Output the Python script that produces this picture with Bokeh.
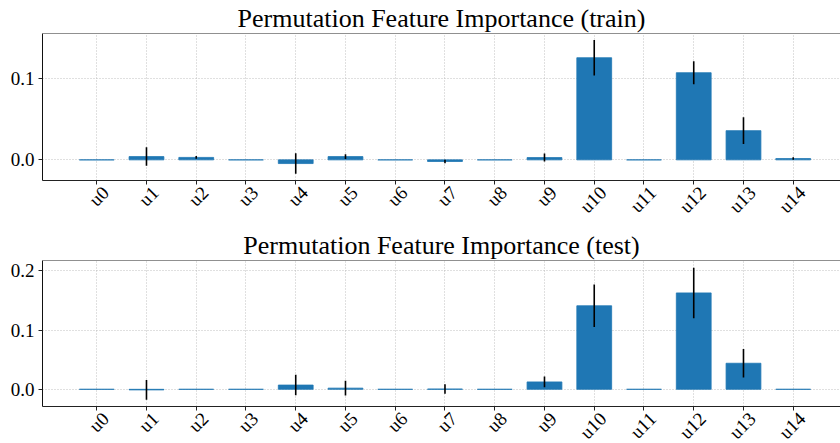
import math
from bokeh.plotting import figure
from bokeh.models import (Range1d, FixedTicker, SingleIntervalTicker, PrintfTickFormatter,
                          Span, LinearAxis)
from bokeh.layouts import column
from bokeh.embed import file_html
from bokeh.resources import INLINE

# ---- data ----
features = ["u0", "u1", "u2", "u3", "u4", "u5", "u6", "u7", "u8", "u9",
            "u10", "u11", "u12", "u13", "u14"]
train_mean = [0.0, 0.004, 0.003, 0.0, -0.0045, 0.004, 0.0, -0.002, 0.0, 0.0028,
              0.1248, 0.0, 0.1065, 0.0357, 0.0016]
train_std = [0.0, 0.0113, 0.0016, 0.0, 0.0126, 0.003, 0.0, 0.002, 0.0, 0.0049,
             0.0218, 0.0, 0.014, 0.0163, 0.0015]
test_mean = [0.0, -0.001, 0.0, 0.0, 0.0072, 0.002, 0.0, 0.0005, 0.0, 0.0125,
             0.141, 0.0, 0.1627, 0.044, 0.0]
test_std = [0.0, 0.0167, 0.0, 0.0, 0.0172, 0.0125, 0.0, 0.008, 0.0, 0.009,
            0.036, 0.0, 0.0426, 0.0242, 0.0]
titles = ["Permutation Feature Importance (train)",
          "Permutation Feature Importance (test)"]
y_limits = [(-0.0252, 0.1544), (-0.029, 0.2174)]

FONT = "Liberation Serif"
BLUE = "#1f77b4"
W = 840
LABEL_FS = 19
X0, X1 = -1.09, 14.95
LABEL_SHIFT = 0.18   # horizontal nudge of rotated labels (matplotlib centres the rotated box)


def panel(title, means, stds, ylim, height, top, bottom):
    n = len(features)
    xs = list(range(n))
    p = figure(width=W, height=height, output_backend="svg", toolbar_location=None,
               x_range=Range1d(X0, X1), y_range=Range1d(*ylim),
               min_border_left=42, min_border_right=0,
               min_border_top=top, min_border_bottom=bottom,
               background_fill_color="white", border_fill_color="white")
    p.outline_line_color = None
    p.title.text = title
    p.title.text_font = FONT
    p.title.text_font_size = "26px"
    p.title.text_font_style = "normal"
    p.title.text_color = "black"
    p.title.align = "center"
    p.title.standoff = 2

    # x axis: ticks + spine
    p.xaxis.ticker = FixedTicker(ticks=xs)
    p.xaxis.major_label_overrides = {i: "" for i in xs}
    p.xaxis.major_label_text_font_size = "0px"
    p.xaxis.major_label_standoff = 0
    p.xaxis.major_tick_out = 4
    p.xaxis.major_tick_in = 0
    p.xaxis.minor_tick_line_color = None
    p.xaxis.axis_line_color = "#222222"
    p.xaxis.major_tick_line_color = "#222222"

    # x tick labels on a slightly shifted copy of the range
    p.extra_x_ranges = {"labels": Range1d(X0 - LABEL_SHIFT, X1 - LABEL_SHIFT)}
    lab = LinearAxis(x_range_name="labels", ticker=FixedTicker(ticks=xs),
                     major_label_overrides={i: name for i, name in enumerate(features)},
                     major_label_orientation=math.pi / 4,
                     major_label_text_font=FONT,
                     major_label_text_font_size=f"{LABEL_FS}px",
                     major_label_text_color="black",
                     major_label_standoff=5,
                     major_tick_out=0, major_tick_in=0,
                     major_tick_line_color=None, minor_tick_line_color=None,
                     axis_line_color=None)
    p.add_layout(lab, "below")

    p.yaxis.ticker = SingleIntervalTicker(interval=0.1)
    p.yaxis.formatter = PrintfTickFormatter(format="%.1f")
    p.yaxis.major_tick_out = 4
    p.yaxis.major_tick_in = 0
    p.yaxis.minor_tick_line_color = None
    p.yaxis.major_label_standoff = 4
    p.yaxis.major_label_text_font = FONT
    p.yaxis.major_label_text_font_size = f"{LABEL_FS}px"
    p.yaxis.major_label_text_color = "black"
    p.yaxis.axis_line_color = "#111111"
    p.yaxis.major_tick_line_color = "#222222"

    for g in (p.xgrid, p.ygrid):
        g.grid_line_color = "#b0b0b0"
        g.grid_line_dash = "1 2"
        g.grid_line_width = 0.8
    p.xgrid.ticker = FixedTicker(ticks=xs)

    # top spine
    p.add_layout(Span(location=ylim[1], dimension="width", line_color="#222222", line_width=1))

    p.vbar(x=xs, top=means, bottom=0, width=0.7, fill_color=BLUE,
           line_color=BLUE, line_width=0.8)
    lo = [m - s for m, s in zip(means, stds)]
    hi = [m + s for m, s in zip(means, stds)]
    p.segment(x0=xs, y0=lo, x1=xs, y1=hi, line_color="black", line_width=1.6)
    return p


p1 = panel(titles[0], train_mean, train_std, y_limits[0], 227, 33, 47)
p2 = panel(titles[1], test_mean, test_std, y_limits[1], 226, 31, 47)
layout = column(p1, p2, spacing=0, width=W, height=443,
                stylesheets=[":host { overflow: hidden; }"])

open("out.html", "w").write(file_html(layout, INLINE))
